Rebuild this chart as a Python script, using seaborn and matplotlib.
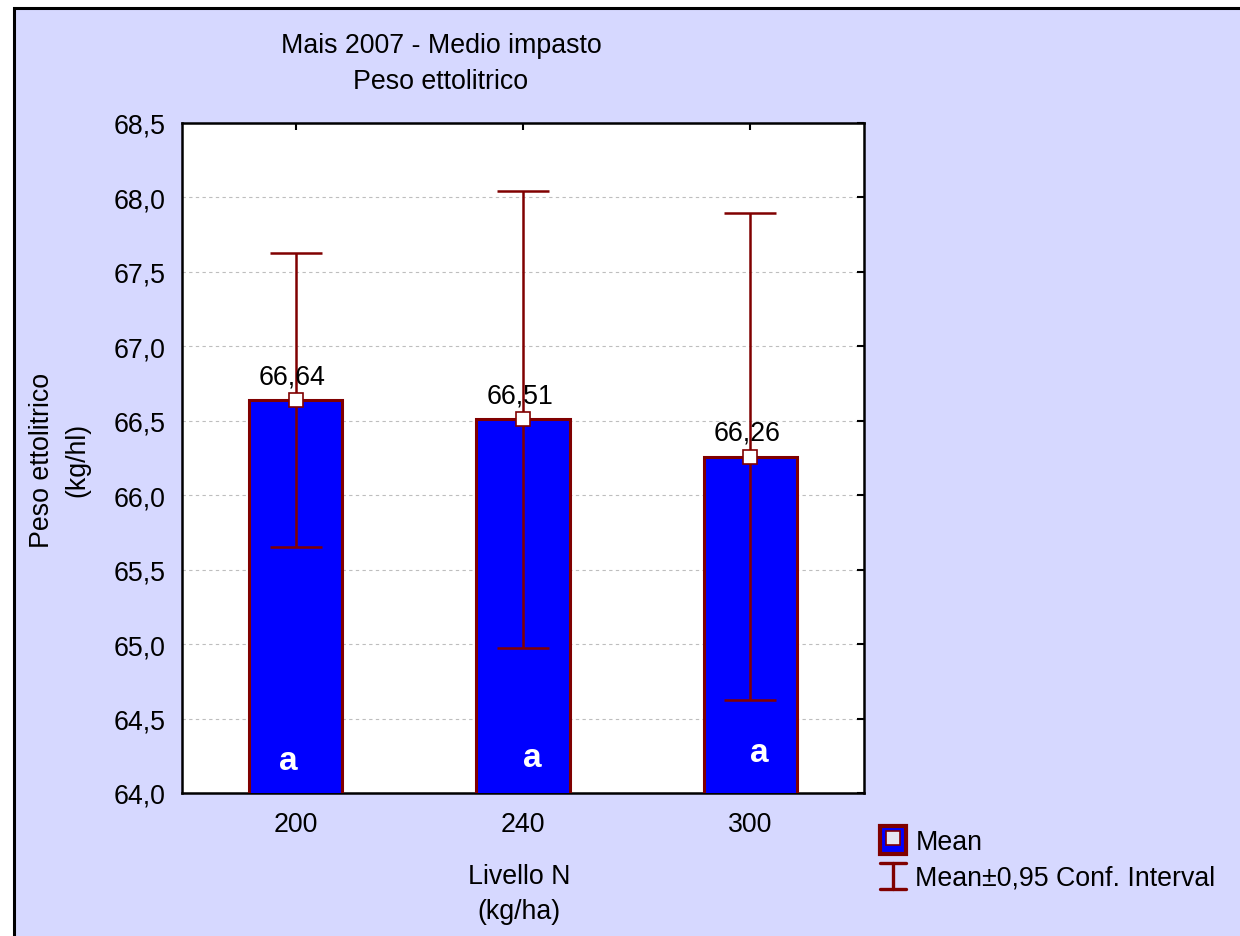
import matplotlib
matplotlib.use("Agg")
import matplotlib.pyplot as plt
from matplotlib.patches import Rectangle, Patch
from matplotlib.lines import Line2D
from matplotlib.legend_handler import HandlerBase
import seaborn as sns
import pandas as pd

# Hectolitre weight of maize by nitrogen level (means with 95% CI half-widths)
levels = ["200", "240", "300"]
means = [66.64, 66.51, 66.26]
ci_half = [0.99, 1.535, 1.635]
letters = ["a", "a", "a"]
yticks = [64.0, 64.5, 65.0, 65.5, 66.0, 66.5, 67.0, 67.5, 68.0, 68.5]

BG = "#D6D8FF"
BAR = "#0000FF"
EDGE = "#800000"
FS = 19.3


class CIKey(Line2D):
    """Marker object for the confidence-interval legend entry."""


class HandlerCapBar(HandlerBase):
    """Legend glyph: vertical whisker with caps at both ends."""

    def create_artists(self, legend, orig_handle, xdescent, ydescent,
                       width, height, fontsize, trans):
        cx = width / 2 - xdescent
        y0 = -ydescent + 0.03 * height
        y1 = height - ydescent - 0.03 * height
        hw = width / 2
        kw = dict(color=EDGE, linewidth=2.4, transform=trans)
        return [Line2D([cx, cx], [y0, y1], **kw),
                Line2D([cx - hw, cx + hw], [y0, y0], **kw),
                Line2D([cx - hw, cx + hw], [y1, y1], **kw)]


sns.set_theme(style="white")
plt.rcParams["font.family"] = ["Liberation Sans", "DejaVu Sans"]
plt.rcParams["text.color"] = "black"
plt.rcParams["xtick.color"] = "black"
plt.rcParams["ytick.color"] = "black"

fig = plt.figure(figsize=(12.4, 9.37), dpi=100, facecolor="white")
# lavender panel with black frame on the left/top
panel = Rectangle((14 / 1240, -0.05), 1.2, 1 - 9 / 937 + 0.05,
                  transform=fig.transFigure, facecolor=BG,
                  edgecolor="black", linewidth=2.2, zorder=-10)
fig.add_artist(panel)

ax = fig.add_axes([182 / 1240, 1 - 794 / 937, 682 / 1240, 670 / 937])
ax.set_facecolor("white")

df = pd.DataFrame({"level": levels, "mean": means})
sns.barplot(data=df, x="level", y="mean", color=BAR, saturation=1,
            width=0.41, errorbar=None, edgecolor=EDGE, linewidth=2.2,
            ax=ax, zorder=3)

xs = list(range(len(levels)))
ax.errorbar(xs, means, yerr=ci_half, fmt="none", ecolor=EDGE,
            elinewidth=1.8, capsize=18.5, capthick=1.8, zorder=4)
ax.plot(xs, means, ls="", marker="s", markersize=10.5, markerfacecolor="white",
        markeredgecolor=EDGE, markeredgewidth=1.2, zorder=5)

for x, m in zip(xs, means):
    ax.text(x - 0.015, m + 0.16, f"{m:.2f}".replace(".", ","), ha="center",
            va="center", fontsize=FS, color="black", zorder=6)

# significance letters near the bar bases
letter_offsets = [(-0.032, 0.215), (0.043, 0.24), (0.038, 0.27)]
for x, lt, (dx, dy) in zip(xs, letters, letter_offsets):
    ax.text(x + dx, 64.0 + dy, lt, ha="center", va="center", fontsize=24,
            fontweight="bold", color="white", zorder=6)

ax.set_xlim(-0.5, 2.5)
ax.set_ylim(64.0, 68.5)
ax.set_yticks(yticks)
ax.set_yticklabels([f"{t:.1f}".replace(".", ",") for t in yticks])
ax.yaxis.grid(True, linestyle=(0, (3, 3)), color="#BEBEBE", linewidth=0.8)
ax.set_axisbelow(True)
ax.set_xlabel("")
ax.set_ylabel("")
for s in ax.spines.values():
    s.set_visible(True)
    s.set_color("black")
    s.set_linewidth(1.8)
ax.tick_params(axis="both", direction="in", length=5, width=1.5,
               color="black", labelcolor="black", labelsize=FS,
               top=True, right=True)
ax.tick_params(axis="y", pad=12)
ax.tick_params(axis="x", pad=13)

fig.text(441 / 1240, 1 - 64 / 937, "Mais 2007 - Medio impasto\nPeso ettolitrico",
         ha="center", va="center", fontsize=FS, linespacing=1.5,
         color="black")
fig.text(60 / 1240, 1 - 460 / 937, "Peso ettolitrico\n(kg/hl)", rotation=90,
         ha="center", va="center", fontsize=FS, linespacing=1.45,
         multialignment="center", color="black")
fig.text(519 / 1240, 1 - 895 / 937, "Livello N\n(kg/ha)", ha="center",
         va="center", fontsize=FS, linespacing=1.45, multialignment="center",
         color="black")

mean_handle = (Patch(facecolor=BAR, edgecolor=EDGE, linewidth=3.0),
               Line2D([], [], ls="", marker="s", markersize=9.5,
                      markerfacecolor="#E6E6F0", markeredgecolor=EDGE,
                      markeredgewidth=1.2))
ci_handle = CIKey([], [], color=EDGE)
fig.legend([mean_handle, ci_handle], ["Mean", "Mean±0,95 Conf. Interval"],
           loc="upper left", bbox_to_anchor=(880 / 1240, 1 - 827 / 937),
           frameon=False, fontsize=FS, handlelength=0.97, handleheight=1.24,
           handletextpad=0.35, labelspacing=0.25, borderpad=0,
           borderaxespad=0, handler_map={CIKey: HandlerCapBar()})

fig.savefig("out.png", dpi=100, facecolor="white")
